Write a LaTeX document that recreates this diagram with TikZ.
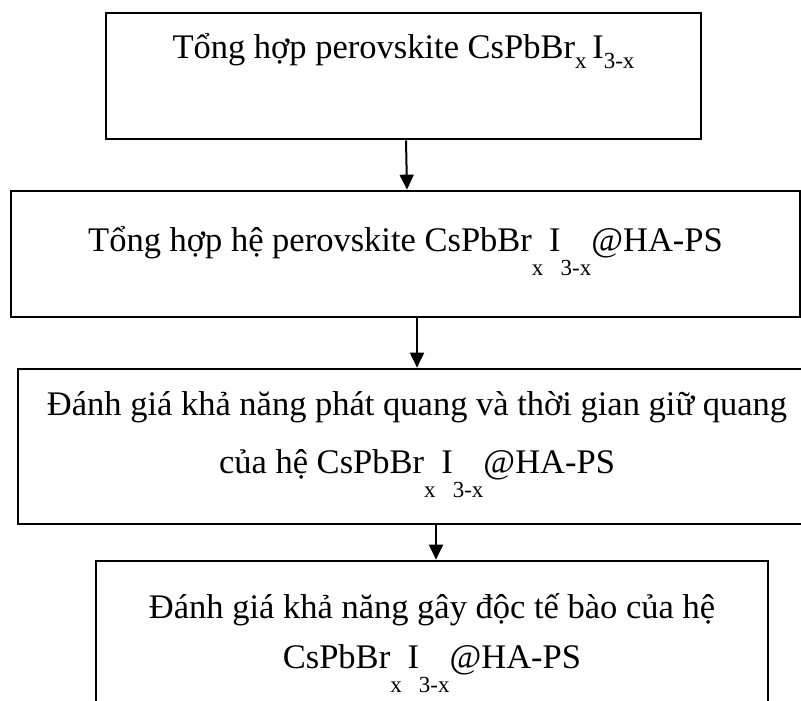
\documentclass[tikz,border=0pt]{standalone}
\usepackage{fontspec}
\setmainfont{Liberation Serif}
\usetikzlibrary{arrows.meta}
% lowered subscript as used in the chemical formula: #1 = drop, #2 = text
\newcommand{\lowsub}[2]{\raisebox{-#1}{\fontsize{23}{23}\selectfont #2}}
\newcommand{\formula}[1][24pt]{CsPbBr\lowsub{#1}{x}\,I\lowsub{#1}{3-x}}
\begin{document}
\begin{tikzpicture}[x=1pt,y=-1pt,
  stepbox/.style={draw=black,line width=2.7pt,rectangle,inner sep=0pt},
  label/.style={anchor=base,inner sep=0pt,font=\fontsize{34.5}{42}\selectfont},
  arr/.style={line width=2pt,-{Triangle[length=15pt,width=14pt]}}]
\useasboundingbox (0,0) rectangle (801,701);
\clip (0,0) rectangle (801,701);
% boxes of the flow
\node[stepbox,minimum width=595pt,minimum height=126pt] (b1) at (403.5,76) {};
\node[stepbox,minimum width=789pt,minimum height=126pt] (b2) at (405.5,254) {};
\node[stepbox,minimum width=798pt,minimum height=155pt] (b3) at (417,446.5) {};
\node[stepbox,minimum width=672pt,minimum height=155pt] (b4) at (432,638.5) {};
% texts
\node[label] (t1) at ([yshift=-47pt]b1.north) {Tổng hợp perovskite \formula[10pt]};
\node[label] (t2) at ([yshift=-62pt]b2.north) {Tổng hợp hệ perovskite \formula@HA-PS};
\node[label] (t3a) at ([yshift=-48pt]b3.north) {Đánh giá khả năng phát quang và thời gian giữ quang};
\node[label] (t3b) at ([yshift=-106pt]b3.north) {của hệ \formula@HA-PS};
\node[label] (t4a) at ([yshift=-59pt]b4.north) {Đánh giá khả năng gây độc tế bào của hệ};
\node[label] (t4b) at ([yshift=-109pt]b4.north) {\formula@HA-PS};
% connectors
\draw[arr] ([xshift=2.5pt]b1.south) -- ([xshift=1.5pt]b2.north);
\draw[arr] ([xshift=11.5pt]b2.south) -- (b3.north);
\draw[arr] ([xshift=19pt]b3.south) -- ([xshift=4pt]b4.north);
\end{tikzpicture}
\end{document}
